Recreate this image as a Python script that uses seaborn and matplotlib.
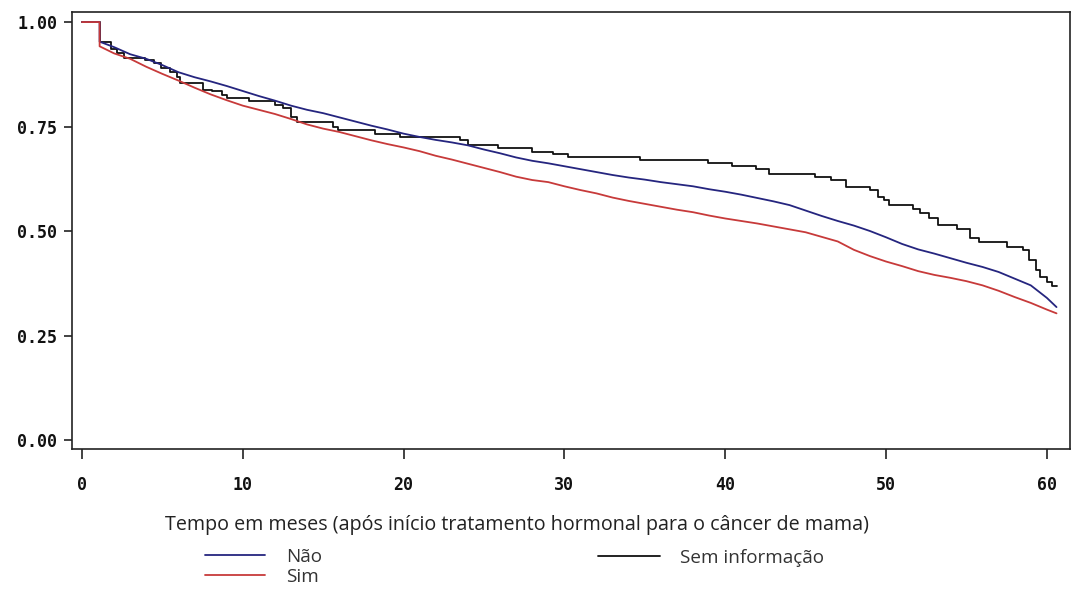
import matplotlib
matplotlib.use("Agg")
import matplotlib.pyplot as plt
import seaborn as sns
import pandas as pd

# Kaplan-Meier survival estimates by group (time in months)
tempo_nao = [0, 1.1, 1.1, 2, 3, 4, 5, 6, 7, 8, 9, 10, 11, 12, 13, 14, 15, 16, 17, 18, 19, 20,
             21, 22, 23, 24, 25, 26, 27, 28, 29, 30, 31, 32, 33, 34, 35, 36, 37, 38, 39, 40,
             41, 42, 43, 44, 45, 46, 47, 48, 49, 50, 51, 52, 53, 54, 55, 56, 57, 58, 59, 60, 60.6]
surv_nao = [1.000, 1.000, 0.953, 0.940, 0.923, 0.912, 0.897, 0.880, 0.868, 0.858, 0.847, 0.835,
            0.823, 0.812, 0.800, 0.790, 0.782, 0.772, 0.762, 0.752, 0.743, 0.733,
            0.725, 0.718, 0.712, 0.705, 0.695, 0.686, 0.676, 0.668, 0.662, 0.655,
            0.648, 0.641, 0.634, 0.628, 0.623, 0.617, 0.612, 0.607, 0.600, 0.594,
            0.587, 0.579, 0.571, 0.562, 0.549, 0.536, 0.524, 0.513, 0.500, 0.485,
            0.469, 0.456, 0.446, 0.435, 0.424, 0.414, 0.402, 0.386, 0.370, 0.340, 0.318]

tempo_sim = list(tempo_nao)
surv_sim = [1.000, 1.000, 0.942, 0.925, 0.912, 0.893, 0.876, 0.860, 0.843, 0.827, 0.813, 0.800,
            0.790, 0.780, 0.768, 0.755, 0.745, 0.737, 0.727, 0.717, 0.708, 0.700,
            0.691, 0.680, 0.671, 0.661, 0.651, 0.641, 0.630, 0.622, 0.617, 0.607,
            0.598, 0.590, 0.580, 0.572, 0.565, 0.558, 0.551, 0.545, 0.537, 0.530,
            0.524, 0.518, 0.511, 0.504, 0.497, 0.486, 0.475, 0.455, 0.440, 0.427,
            0.416, 0.404, 0.395, 0.388, 0.380, 0.370, 0.357, 0.342, 0.328, 0.312, 0.303]

tempo_sem = [0, 1.1, 1.8, 2.2, 2.6, 3.9, 4.5, 4.9, 5.5, 5.9, 6.1, 7.5, 8.1, 8.7, 9.0, 10.4,
             12.0, 12.5, 13.0, 13.4, 15.6, 15.9, 18.2, 19.8, 23.5, 24.0, 25.9, 28.0, 29.3,
             30.2, 34.7, 38.9, 40.4, 41.9, 42.7, 45.6, 46.6, 47.5, 49.0, 49.5, 49.9, 50.2,
             51.7, 52.1, 52.7, 53.2, 54.4, 55.2, 55.8, 57.5, 58.5, 58.9, 59.3, 59.6, 60.0,
             60.3, 60.6]
surv_sem = [1.000, 0.952, 0.935, 0.925, 0.915, 0.909, 0.901, 0.889, 0.881, 0.868, 0.855,
            0.838, 0.834, 0.826, 0.818, 0.810, 0.802, 0.795, 0.772, 0.762, 0.750, 0.742,
            0.731, 0.726, 0.718, 0.706, 0.698, 0.690, 0.684, 0.678, 0.670, 0.662, 0.656,
            0.648, 0.636, 0.630, 0.622, 0.606, 0.598, 0.582, 0.574, 0.562, 0.552, 0.544,
            0.530, 0.514, 0.504, 0.483, 0.474, 0.462, 0.455, 0.431, 0.407, 0.391, 0.379,
            0.368, 0.368]

grupos = ["Não", "Sim", "Sem informação"]
cores = {"Não": "#25257f", "Sim": "#c73a3a", "Sem informação": "#111111"}

x_ticks = [0, 10, 20, 30, 40, 50, 60]
y_ticks = [0.00, 0.25, 0.50, 0.75, 1.00]
y_tick_labels = ["0.00", "0.25", "0.50", "0.75", "1.00"]
x_label = "Tempo em meses (após início tratamento hormonal para o câncer de mama)"

df_grande = pd.concat([
    pd.DataFrame({"tempo": tempo_nao, "sobrevida": surv_nao, "grupo": "Não"}),
    pd.DataFrame({"tempo": tempo_sim, "sobrevida": surv_sim, "grupo": "Sim"}),
], ignore_index=True)
df_sem = pd.DataFrame({"tempo": tempo_sem, "sobrevida": surv_sem, "grupo": "Sem informação"})

sns.set_style("ticks")
plt.rcParams["font.family"] = ["DejaVu Sans"]

fig = plt.figure(figsize=(10.74, 5.92), dpi=100)
ax = fig.add_axes([0.067, 0.2416, 0.9293, 0.7381])

# smaller group: visible KM steps
sns.lineplot(data=df_sem, x="tempo", y="sobrevida", hue="grupo", palette=cores,
             drawstyle="steps-post", estimator=None, sort=False,
             linewidth=1.3, legend=False, ax=ax)
# larger groups: dense steps, drawn through the monthly estimates
sns.lineplot(data=df_grande, x="tempo", y="sobrevida", hue="grupo", hue_order=["Não", "Sim"],
             palette=cores, estimator=None, sort=False,
             linewidth=1.3, legend=False, ax=ax)

ax.set_xlim(-0.62, 61.44)
ax.set_ylim(-0.0215, 1.024)
ax.set_xticks(x_ticks)
ax.set_xticklabels([str(t) for t in x_ticks])
ax.set_yticks(y_ticks)
ax.set_yticklabels(y_tick_labels)
ax.set_xlabel("")
ax.set_ylabel("")

for s in ax.spines.values():
    s.set_visible(True)
    s.set_linewidth(1.2)
    s.set_color("#222222")

for lab in ax.get_xticklabels() + ax.get_yticklabels():
    lab.set_fontfamily("DejaVu Sans Mono")
    lab.set_fontweight("bold")
    lab.set_fontsize(12)
    lab.set_color("#111111")
ax.tick_params(axis="x", direction="out", length=7.5, width=1.2, pad=12, color="#222222")
ax.tick_params(axis="y", direction="out", length=5.5, width=1.2, pad=5, color="#222222")

fig.text(517 / 1074, 1 - 525 / 592, x_label, ha="center", va="center",
         fontfamily="Open Sans", fontsize=14.2, color="#222222")

linhas = dict(zip(["Sem informação", "Não", "Sim"], ax.get_lines()))
leg_kw = dict(frameon=False, loc="upper left", borderaxespad=0, borderpad=0,
              prop={"family": "Open Sans", "size": 13.6}, labelcolor="#333333",
              labelspacing=0.08)
fig.legend([linhas["Não"], linhas["Sim"]], ["Não", "Sim"],
           bbox_to_anchor=(205 / 1074, 1 - 548 / 592),
           handlelength=3.15, handletextpad=1.15, **leg_kw)
fig.legend([linhas["Sem informação"]], ["Sem informação"],
           bbox_to_anchor=(598 / 1074, 1 - 549 / 592),
           handlelength=3.3, handletextpad=1.05, **leg_kw)

fig.savefig("out.png", dpi=100, facecolor="white")
